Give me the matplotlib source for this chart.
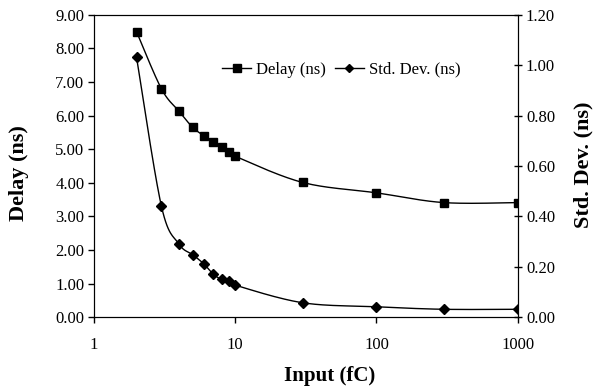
import numpy as np
import matplotlib.pyplot as plt

plt.rcParams['font.family'] = ['Liberation Serif', 'DejaVu Serif']

# data
input_fc = [2, 3, 4, 5, 6, 7, 8, 9, 10, 30, 100, 300, 1000]
delay_ns = [8.50, 6.80, 6.13, 5.65, 5.40, 5.22, 5.06, 4.93, 4.79, 4.01, 3.70, 3.41, 3.41]
stddev_ns = [1.032, 0.441, 0.290, 0.248, 0.211, 0.170, 0.150, 0.143, 0.127, 0.057, 0.041, 0.031, 0.031]
left_ticks = np.arange(0, 9.01, 1)
right_ticks = np.arange(0, 1.21, 0.2)
x_ticks = [1, 10, 100, 1000]


def smooth(x, y, n=30):
    # Excel-style smoothed line (Catmull-Rom through the points), done in log-x space
    u = np.log10(np.asarray(x, float))
    v = np.asarray(y, float)
    pu = np.concatenate([[u[0]], u, [u[-1]]])
    pv = np.concatenate([[v[0]], v, [v[-1]]])
    xs, ys = [], []
    t = np.linspace(0, 1, n)
    for i in range(1, len(pu) - 2):
        p0, p1, p2, p3 = [np.array([pu[j], pv[j]]) for j in (i - 1, i, i + 1, i + 2)]
        c1 = p1 + (p2 - p0) / 6
        c2 = p2 - (p3 - p1) / 6
        pts = ((1 - t) ** 3)[:, None] * p1 + (3 * (1 - t) ** 2 * t)[:, None] * c1 \
            + (3 * (1 - t) * t ** 2)[:, None] * c2 + (t ** 3)[:, None] * p2
        xs.extend(pts[:, 0])
        ys.extend(pts[:, 1])
    return 10 ** np.array(xs), np.array(ys)


fig = plt.figure(figsize=(5.95, 3.91), dpi=100)
ax = fig.add_axes([0.158, 0.189, 0.712, 0.773])
ax2 = ax.twinx()

sx, sy = smooth(input_fc, delay_ns)
ax.plot(sx, sy, color='black', lw=1)
ax.plot(input_fc, delay_ns, 's', color='black', ms=5.8)
l1, = ax.plot([], [], '-s', color='black', lw=1, ms=5.8, label='Delay (ns)')

sx2, sy2 = smooth(input_fc, stddev_ns)
ax2.plot(sx2, sy2, color='black', lw=1)
ax2.plot(input_fc, stddev_ns, 'D', color='black', ms=5)
l2, = ax2.plot([], [], '-D', color='black', lw=1, ms=4.5, label='Std. Dev. (ns)')

ax.set_xscale('log')
ax.set_xlim(1, 1000)
ax.set_ylim(0, 9)
ax2.set_ylim(0, 1.2)
ax.set_yticks(left_ticks)
ax.set_yticklabels(['%.2f' % v for v in left_ticks])
ax2.set_yticks(right_ticks)
ax2.set_yticklabels(['%.2f' % v for v in right_ticks])
ax.set_xticks(x_ticks)
ax.set_xticklabels([str(v) for v in x_ticks])
ax.xaxis.set_minor_locator(plt.NullLocator())

ax.tick_params(axis='y', direction='out', length=4, labelsize=12, width=1, pad=3)
ax.tick_params(axis='x', direction='out', length=4, labelsize=12, width=1, pad=10)
ax2.tick_params(axis='y', direction='inout', length=6, labelsize=12, width=1, pad=3)

ax.set_xlabel('Input (fC)', fontsize=15, fontweight='bold')
ax.xaxis.set_label_coords(0.555, -0.195)
ax.xaxis.label.set_va('center')
ax.set_ylabel('Delay (ns)', fontsize=16, fontweight='bold')
ax.yaxis.set_label_coords(-0.177, 0.478)
ax.yaxis.label.set_va('center')
ax2.set_ylabel('Std. Dev. (ns)', fontsize=16, fontweight='bold')
ax2.yaxis.set_label_coords(1.155, 0.503)
ax2.yaxis.label.set_va('center')

ax.legend(handles=[l1, l2], loc='center', bbox_to_anchor=(0.584, 0.818), ncol=2,
          frameon=False, fontsize=12, handlelength=1.75, handletextpad=0.3,
          columnspacing=0.5, borderpad=0)

fig.savefig('out.png', dpi=100)
